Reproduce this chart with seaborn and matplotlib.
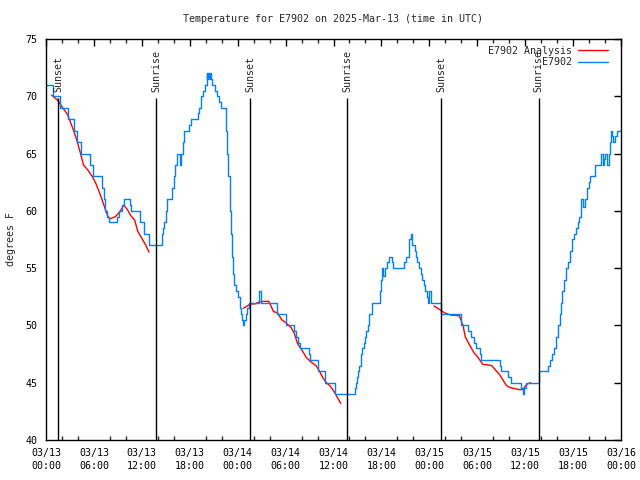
import numpy as np
import pandas as pd
import seaborn as sns
import matplotlib.pyplot as plt

# observed temperature (hours since 03/13 00:00 UTC, deg F), drawn as steps
obs_hours = [0.0, 0.9, 1.8, 2.8, 3.5, 3.9, 4.4, 5.5, 5.9, 7.0, 7.2, 7.4, 7.7, 7.9,
             8.9, 9.2, 9.5, 9.75, 10.5, 10.6, 11.8, 12.25, 12.9, 14.5, 14.6, 14.8,
             15.0, 15.2, 15.8, 16.0, 16.2, 16.4, 16.8, 16.95, 17.1, 17.3, 17.9, 18.1,
             19.0, 19.2, 19.4, 19.7, 19.9, 20.1, 20.2, 20.3, 20.4, 20.5, 20.7, 20.8,
             21.1, 21.4, 21.7, 21.9, 22.6, 22.7, 22.85, 23.0, 23.15, 23.3, 23.45, 23.6,
             23.8, 24.1, 24.25, 24.4, 24.6, 24.7, 24.85, 25.0, 25.2, 25.4, 26.7, 26.95,
             28.9, 30.0, 31.0, 31.3, 31.6, 31.8, 32.9, 33.0, 34.0, 34.9, 36.2, 38.7,
             38.8, 38.95, 39.1, 39.25, 39.4, 39.6, 39.8, 39.95, 40.1, 40.3, 40.5, 40.8,
             41.8, 41.95, 42.1, 42.2, 42.4, 42.7, 43.0, 43.3, 43.5, 44.8, 45.1, 45.4,
             45.5, 45.65, 45.8, 46.2, 46.35, 46.5, 46.7, 46.9, 47.1, 47.35, 47.5, 47.7,
             47.8, 48.0, 48.15, 49.45, 52.0, 52.8, 53.2, 53.6, 53.9, 54.3, 54.5, 56.8,
             57.0, 57.9, 58.2, 59.5, 59.7, 59.85, 60.1, 61.75, 62.8, 63.1, 63.4, 63.65,
             63.85, 64.05, 64.3, 64.5, 64.65, 64.9, 65.1, 65.35, 65.6, 65.85, 66.1,
             66.35, 66.6, 66.8, 66.95, 67.05, 67.2, 67.5, 67.75, 68.0, 68.1, 68.8,
             69.45, 69.7, 69.9, 70.05, 70.25, 70.45, 70.6, 70.7, 70.85, 71.0, 71.3,
             71.45, 72.0]
obs_temps = [71, 70, 69, 68, 67, 66, 65, 64, 63, 62, 61, 60, 59.5, 59,
             59.5, 60, 60.5, 61, 60.5, 60, 59, 58, 57, 58, 58.5, 59,
             60, 61, 62, 63, 64, 65, 64, 65, 66, 67, 67.5, 68,
             68.5, 69, 70, 70.5, 71, 72, 71.5, 72, 71.5, 72, 71.5, 71,
             70.5, 70, 69.5, 69, 67, 65, 63, 60, 58, 56, 54.5, 53.5,
             53, 52.5, 51.5, 51, 50.5, 50, 50.5, 51, 51.5, 52, 53, 52,
             51, 50, 49.5, 49, 48.5, 48, 47.5, 47, 46, 45, 44, 44.5,
             45, 45.5, 46, 46.5, 47.5, 48, 48.5, 49, 49.5, 50, 51, 52,
             53, 54, 55, 54.3, 55, 55.5, 56, 55.5, 55, 55.5, 56, 56.5,
             57.5, 58, 57, 56.5, 56, 55.5, 55, 54.5, 54, 53.5, 53, 52.5,
             52, 53, 52, 51, 50, 49.5, 49, 48.5, 48, 47.5, 47, 46.5,
             46, 45.5, 45, 44.5, 44, 44.5, 45, 46, 46.5, 47, 47.5, 48,
             49, 50, 51, 52, 53, 54, 55, 55.5, 56.5, 57.5, 58,
             58.5, 59, 59.5, 60.5, 61, 60.3, 61, 62, 62.5, 63, 64,
             65, 64, 64.5, 65, 64, 65, 66, 67, 66.5, 66, 66.5,
             67, 67]

# analysis series, three separate runs
ana_hours = [
    [0.7, 1.4, 2.0, 2.7, 3.3, 3.8, 4.25, 4.7, 5.2, 5.8, 6.3, 6.8, 7.25, 7.7, 8.0,
     8.7, 9.1, 9.4, 9.75, 10.2, 10.6, 11.1, 11.5, 12.0, 12.5, 12.9],
    [24.7, 25.0, 25.5, 26.3, 26.5, 27.2, 27.9, 28.1, 28.5, 29.0, 29.5, 30.1, 30.7,
     31.1, 31.5, 32.0, 32.6, 33.2, 33.8, 34.25, 34.7, 35.1, 35.6, 36.1, 36.5, 36.9],
    [48.6, 49.25, 49.9, 50.7, 51.75, 51.95, 52.25, 52.5, 52.8, 53.2, 53.6, 54.0,
     54.5, 54.7, 55.3, 55.8, 56.3, 56.8, 57.25, 57.6, 58.0, 58.6, 59.25, 59.7,
     60.0, 60.3, 60.7],
]
ana_temps = [
    [70.1, 69.7, 69.1, 68.4, 67.3, 66.3, 65.2, 64.0, 63.6, 63.0, 62.3, 61.4, 60.5,
     59.6, 59.3, 59.5, 59.8, 60.1, 60.5, 60.1, 59.6, 59.2, 58.2, 57.6, 57.0, 56.4],
    [51.5, 51.6, 51.85, 51.9, 52.0, 52.1, 52.1, 51.8, 51.2, 51.1, 50.5, 50.2, 49.8,
     49.3, 48.4, 47.9, 47.2, 46.8, 46.5, 46.0, 45.4, 45.0, 44.7, 44.2, 43.7, 43.2],
    [51.7, 51.4, 51.1, 50.9, 50.85, 50.5, 49.9, 49.0, 48.6, 48.1, 47.6, 47.3,
     46.8, 46.6, 46.55, 46.5, 46.1, 45.7, 45.2, 44.8, 44.6, 44.5, 44.4, 44.4,
     44.7, 44.9, 45.0],
]

sun_hours = [1.54, 13.8, 25.6, 37.7, 49.5, 61.7]
sun_labels = ["Sunset", "Sunrise", "Sunset", "Sunrise", "Sunset", "Sunrise"]

tick_hours = [0, 6, 12, 18, 24, 30, 36, 42, 48, 54, 60, 66, 72]
tick_labels = ["03/13\n00:00", "03/13\n06:00", "03/13\n12:00", "03/13\n18:00",
               "03/14\n00:00", "03/14\n06:00", "03/14\n12:00", "03/14\n18:00",
               "03/15\n00:00", "03/15\n06:00", "03/15\n12:00", "03/15\n18:00",
               "03/16\n00:00"]

sns.set_style("white")
plt.rcParams['font.family'] = ['DejaVu Sans Mono', 'DejaVu Sans']
fs = 7.2

fig = plt.figure(figsize=(6.4, 4.8), dpi=100)
ax = fig.add_axes([46 / 640, 40 / 480, 575 / 640, 401 / 480])

red = "#ff0000"
blue = "#0080ff"

for i, (hh, tt) in enumerate(zip(ana_hours, ana_temps)):
    sns.lineplot(x=hh, y=tt, ax=ax, color=red, lw=1.0, estimator=None, sort=False,
                 label="E7902 Analysis" if i == 0 else "_nolegend_")

sns.lineplot(x=obs_hours, y=obs_temps, ax=ax, color=blue, lw=1.0, estimator=None,
             sort=False, drawstyle="steps-post", label="E7902")

# sunrise / sunset markers
ax.vlines(sun_hours, 40, 69.85, color="black", lw=1.0)
for h, lab in zip(sun_hours, sun_labels):
    ax.text(h, 70.37, lab, rotation=90, ha="center", va="bottom", fontsize=fs)

ax.set_xlim(0, 72)
ax.set_ylim(40, 75)
ax.set_xticks(tick_hours)
ax.set_xticklabels(tick_labels, linespacing=1.35)
ax.set_xticks(np.arange(0, 73, 2), minor=True)
ax.set_yticks(np.arange(40, 76, 5))
ax.tick_params(which="major", direction="in", top=True, right=True, length=5,
               width=1, labelsize=fs, colors="black")
ax.tick_params(axis="x", which="major", pad=6)
ax.tick_params(axis="y", which="major", pad=6)
ax.tick_params(which="minor", direction="in", top=True, bottom=True, length=3, width=1)
for s in ax.spines.values():
    s.set_color("black")
    s.set_linewidth(1.0)

ax.set_xlabel("")
ax.set_ylabel("degrees F", fontsize=fs)
ax.yaxis.set_label_coords((16 - 46) / 575, 0.5)

fig.text(333 / 640, 1 - 19 / 480, "Temperature for E7902 on 2025-Mar-13 (time in UTC)",
         ha="center", va="center", fontsize=fs)

handles, labels = ax.get_legend_handles_labels()
labels = [l.rjust(14) for l in labels]
ax.legend(handles, labels, loc="upper right", frameon=False, fontsize=fs,
          markerfirst=False, handlelength=3.0, handletextpad=0.6,
          labelspacing=0.15, borderaxespad=0.3, borderpad=0.2,
          bbox_to_anchor=(1 - 8 / 575, 1 - 2 / 401))

fig.savefig("out.png", dpi=100)
